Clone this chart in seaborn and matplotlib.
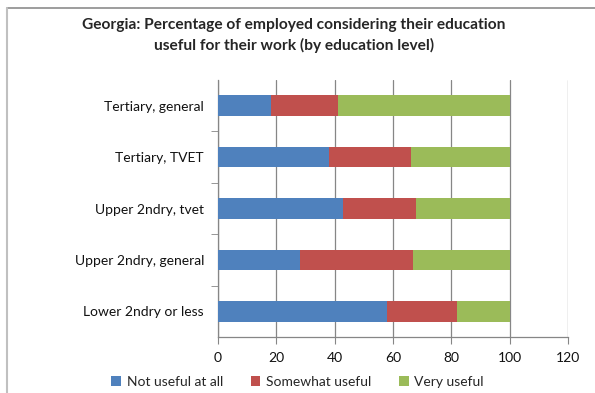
import matplotlib
matplotlib.use("Agg")
import matplotlib.pyplot as plt
from matplotlib.lines import Line2D
from matplotlib.patches import Patch
import seaborn as sns
import pandas as pd
import numpy as np

categories = ["Tertiary, general", "Tertiary, TVET", "Upper 2ndry, tvet",
              "Upper 2ndry, general", "Lower 2ndry or less"]
not_useful = [18, 38, 43, 28, 58]
somewhat_useful = [23, 28, 25, 39, 24]
very_useful = [59, 34, 32, 33, 18]
series_names = ["Not useful at all", "Somewhat useful", "Very useful"]
colors = ["#4F81BD", "#C0504D", "#9BBB59"]
x_ticks = [0, 20, 40, 60, 80, 100, 120]
title_lines = ["Georgia: Percentage of employed considering their education",
               "useful for their work (by education level)"]

sns.set_style("white")
plt.rcParams["font.family"] = ["Lato", "DejaVu Sans"]

df = pd.DataFrame({
    "category": categories,
    "s1": np.array(not_useful),
    "s2": np.array(not_useful) + np.array(somewhat_useful),
    "s3": np.array(not_useful) + np.array(somewhat_useful) + np.array(very_useful),
})

fig = plt.figure(figsize=(5.95, 3.93), dpi=100)
ax = fig.add_axes([218 / 595, 1 - 337 / 393, 350 / 595, 257 / 393])

# Stacked bars: draw cumulative totals from the outermost layer inward
for col, color in zip(["s3", "s2", "s1"], colors[::-1]):
    sns.barplot(data=df, x=col, y="category", order=categories, color=color,
                width=0.4, saturation=1, ax=ax, zorder=3, edgecolor="none")

ax.set_xlim(0, 120)
ax.set_ylim(4.5, -0.5)
ax.set_xticks(x_ticks)
ax.set_xticklabels([str(t) for t in x_ticks])
ax.set_xlabel("")
ax.set_ylabel("")
ax.grid(axis="x", color="#868686", linewidth=0.9, zorder=0)
ax.set_axisbelow(True)

for side in ["top", "right"]:
    ax.spines[side].set_visible(False)
for side in ["left", "bottom"]:
    ax.spines[side].set_color("#868686")
    ax.spines[side].set_linewidth(0.9)

ax.tick_params(axis="x", which="major", length=5, direction="out", color="#868686",
               labelsize=10, pad=6, bottom=True, labelcolor="#111111")
ax.tick_params(axis="y", which="major", length=0, labelsize=10, pad=10, labelcolor="#111111")
ax.set_yticks(np.arange(5), minor=False)
ax.set_yticks(np.arange(0.5, 4.5, 1), minor=True)
ax.tick_params(axis="y", which="minor", length=5, direction="out", color="#868686", left=True)

for i, line in enumerate(title_lines):
    fig.text(0.494, 1 - (25 + 20.5 * i) / 393, line,
             ha="center", va="center", fontsize=11.2, fontweight="bold")

handles = [Patch(facecolor=c, edgecolor="none") for c in colors]
fig.legend(handles, series_names, loc="center", bbox_to_anchor=(0.5, 1 - 382 / 393),
           ncol=3, frameon=False, fontsize=10, handlelength=0.7, handleheight=0.7,
           handletextpad=0.4, columnspacing=2.0)

# Chart frame
fig.add_artist(Line2D([6.5 / 595, 1], [1 - 8 / 393, 1 - 8 / 393], color="#8c8c8c", linewidth=1.2))
fig.add_artist(Line2D([6.5 / 595, 6.5 / 595], [0, 1 - 8 / 393], color="#c0c0c0", linewidth=1.5))

fig.savefig("out.png", dpi=100)
